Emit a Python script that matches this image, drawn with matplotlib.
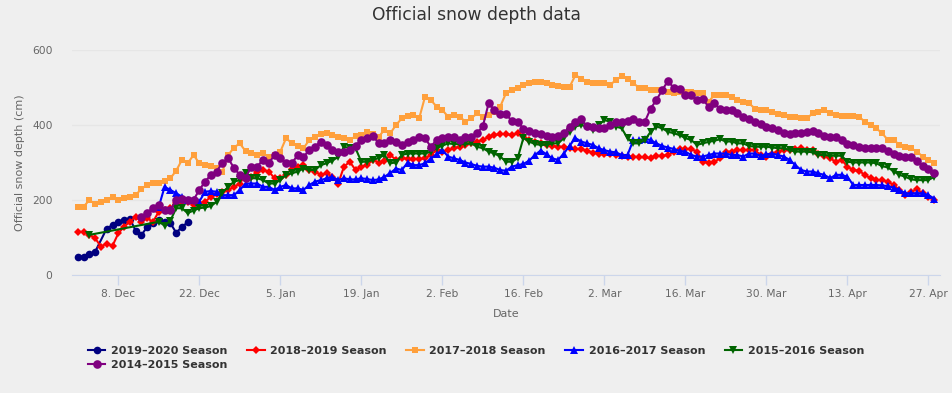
import datetime as dt
import matplotlib
matplotlib.use("Agg")
import matplotlib.pyplot as plt
import matplotlib.dates as mdates
from matplotlib.ticker import FuncFormatter

# season day 0 = 30 Nov; each list starts at the given day offset, None = no reading
season_labels = ["2019\u20132020 Season", "2018\u20132019 Season", "2017\u20132018 Season",
                 "2016\u20132017 Season", "2015\u20132016 Season", "2014\u20132015 Season"]

start_2019 = 1
depth_2019 = [49, 49, 56, 62, None, 124, 133, 142, 147, 150, 118, 107, 128, 138, 147, 141, 138, 113, 128, 141]

start_2018 = 1
depth_2018 = [115, 115, 107, 98, 76, 84, 78, 111, 129, 142,
              155, 142, 151, 142, 169, 173, 178, 191, 195, 195,
              187, 191, 195, 209, 215, 222, 227, 235, 244, 267,
              262, 276, 280, 276, 258, 258, 267, 284, 289, 293,
              280, 276, 267, 271, 262, 244, 289, 302, 280, 289,
              293, 307, 300, 305, 320, 307, 313, 309, 309, 309,
              311, 320, 333, 329, 333, 338, 342, 347, 351, 356,
              360, 369, 373, 376, 376, 373, 378, 371, 360, 356,
              351, 347, 344, 342, 342, 338, 336, 336, 331, 326,
              324, 324, 322, 320, 318, 316, 316, 314, 314, 311,
              318, 318, 320, 329, 336, 336, 336, 329, 302, 300,
              302, 311, 329, 329, 333, 333, 333, 333, 320, 316,
              324, 329, 333, 333, 336, 338, 333, 333, 324, 318,
              311, 302, 307, 289, 280, 278, 267, 258, 253, 253,
              249, 240, 227, 213, 222, 229, 218, 209, 200]

start_2017 = 1
depth_2017 = [182, 182, 200, 189, 195, 200, 209, 200, 205, 209,
              213, 230, 240, 245, 245, 250, 258, 278, 307, 298,
              320, 298, 293, 290, 285, 276, 320, 340, 351, 330,
              325, 320, 325, 315, 320, 329, 365, 351, 345, 338,
              360, 369, 375, 378, 373, 369, 365, 360, 370, 373,
              382, 375, 369, 387, 378, 400, 418, 425, 427, 418,
              475, 467, 449, 440, 422, 427, 422, 409, 418, 431,
              422, 427, 436, 449, 485, 493, 500, 507, 511, 516,
              516, 513, 507, 505, 502, 502, 533, 524, 516, 511,
              511, 511, 507, 520, 530, 524, 511, 500, 498, 493,
              493, 493, 489, 485, 489, 489, 489, 485, 485, 462,
              480, 480, 480, 476, 467, 462, 458, 444, 440, 440,
              436, 430, 427, 422, 422, 420, 418, 431, 436, 440,
              431, 428, 424, 424, 424, 422, 409, 400, 391, 378,
              360, 360, 347, 342, 338, 329, 316, 307, 298]

start_2016 = 15
depth_2016 = [182, 235, 227, 218, 209, 200,
              200, 196, 222, 224, 222, 213, 213, 213, 227, 244,
              244, 244, 235, 235, 227, 235, 240, 231, 231, 227,
              240, 249, 253, 258, 262, 253, 258, 255, 255, 258,
              256, 253, 255, 262, 272, 284, 280, 300, 293, 293,
              298, 310, 322, 333, 316, 311, 307, 300, 296, 291,
              289, 289, 286, 280, 278, 289, 293, 296, 305, 320,
              332, 322, 311, 307, 324, 345, 365, 356, 351, 347,
              338, 333, 329, 327, 320, 320, 360, 360, 363, 360,
              351, 344, 340, 336, 331, 329, 320, 316, 316, 320,
              324, 324, 324, 320, 320, 316, 324, 324, 318, 322,
              324, 320, 316, 307, 293, 280, 276, 276, 271, 267,
              258, 267, 267, 262, 240, 240, 240, 240, 240, 239,
              237, 233, 227, 218, 218, 218, 218, 213, 204]

start_2015 = 3
depth_2015 = [107, None, None, None, None, None, None, None, None, None, None, None,
              142, 132, 145, 178, 178, 165,
              172, 178, 180, 184, 195, 220, 235, 249, 253, 271,
              258, 258, 253, 244, 244, 253, 267, 271, 276, 284,
              280, 280, 293, 298, 305, 315, 342, 338, 338, 302,
              302, 307, 312, 320, 298, 300, 320, 324, 324, 324,
              324, 329, 338, 345, 351, 349, 349, 349, 351, 342,
              338, 329, 324, 316, 302, 302, 311, 365, 356, 349,
              347, 347, 351, 351, 365, 382, 396, 400, 395, 387,
              400, 413, 409, 396, 391, 365, 351, 351, 360, 382,
              396, 391, 382, 378, 373, 365, 360, 347, 351, 355,
              358, 362, 356, 356, 351, 351, 344, 342, 342, 342,
              340, 338, 338, 333, 329, 329, 329, 327, 320, 320,
              318, 318, 318, 302, 300, 300, 300, 300, 298, 290,
              287, 276, 267, 262, 255, 253, 253, 253, 262]

start_2014 = 12
depth_2014 = [155, 165, 180, 187, 173, 173, 200, 204, 200,
              200, 227, 249, 267, 276, 300, 311, 285, 267, 260,
              289, 289, 307, 298, 320, 311, 298, 298, 320, 315,
              333, 342, 356, 347, 333, 329, 329, 333, 345, 360,
              365, 371, 351, 351, 360, 356, 347, 355, 360, 369,
              365, 342, 360, 366, 369, 367, 360, 367, 367, 378,
              397, 458, 440, 429, 429, 411, 409, 390, 385, 380,
              376, 371, 369, 372, 378, 396, 409, 415, 397, 396,
              391, 393, 400, 409, 409, 412, 415, 409, 409, 444,
              467, 493, 518, 498, 496, 480, 480, 467, 469, 449,
              458, 442, 440, 440, 431, 422, 415, 409, 404, 396,
              391, 387, 378, 376, 378, 380, 382, 385, 378, 371,
              368, 367, 360, 349, 347, 342, 340, 338, 338, 338,
              331, 324, 317, 316, 314, 305, 291, 282, 273]

starts = [start_2019, start_2018, start_2017, start_2016, start_2015, start_2014]
depths = [depth_2019, depth_2018, depth_2017, depth_2016, depth_2015, depth_2014]
colors = ["#000080", "#ff0000", "#ffa03c", "#0000ff", "#006400", "#800080"]
markers = ["o", "D", "s", "^", "v", "o"]
msizes = [5.5, 4.0, 5.0, 5.5, 5.5, 6.2]

day0 = dt.datetime(2017, 11, 30)

plt.rcParams['font.family'] = ['DejaVu Sans']
fig = plt.figure(figsize=(9.52, 3.93), dpi=100, facecolor="#efefef")
ax = fig.add_axes([72/952, 1 - 275/393, (940 - 72)/952, (275 - 50)/393])
ax.set_facecolor("#efefef")

handles = []
for lab, st, vals, c, m, ms in zip(season_labels, starts, depths, colors, markers, msizes):
    xs = [day0 + dt.timedelta(days=st + i) for i, v in enumerate(vals) if v is not None]
    ys = [v for v in vals if v is not None]
    h, = ax.plot(xs, ys, color=c, marker=m, markersize=ms, linewidth=1.5,
                 markeredgewidth=0, label=lab)
    handles.append(h)

ax.set_xlim(day0, day0 + dt.timedelta(days=150))
ax.set_ylim(0, 600)
ax.set_yticks([0, 200, 400, 600])
ticks = [day0 + dt.timedelta(days=8 + 14 * k) for k in range(11)]
ax.set_xticks(ticks)
ax.xaxis.set_major_formatter(FuncFormatter(
    lambda x, pos: "%d. %s" % (mdates.num2date(x).day, mdates.num2date(x).strftime("%b"))))

ax.grid(axis="y", color="#e6e6e6", linewidth=1)
ax.set_axisbelow(True)
for s in ["top", "right", "left"]:
    ax.spines[s].set_visible(False)
ax.spines["bottom"].set_color("#ccd6eb")
ax.tick_params(axis="x", colors="#ccd6eb", length=7, width=1, labelcolor="#666666",
               labelsize=7.7, pad=3)
ax.tick_params(axis="y", length=0, labelcolor="#666666", labelsize=7.7, pad=14)

ax.set_xlabel("Date", color="#666666", fontsize=8, labelpad=7)
ax.set_ylabel("Official snow depth (cm)", color="#666666", fontsize=8, labelpad=5)
fig.suptitle("Official snow depth data", x=0.5, y=0.985, fontsize=12.3, color="#333333")

order = [0, 5, 1, 2, 3, 4]
leg = fig.legend([handles[i] for i in order], [season_labels[i] for i in order],
                 loc="upper center", bbox_to_anchor=(0.5, 0.145), ncol=5, frameon=False,
                 prop={"weight": "bold", "size": 8}, handlelength=1.6,
                 columnspacing=1.75, handletextpad=0.5, labelspacing=0.35)
for t in leg.get_texts():
    t.set_color("#333333")

fig.savefig("out.png", dpi=100, facecolor=fig.get_facecolor())
